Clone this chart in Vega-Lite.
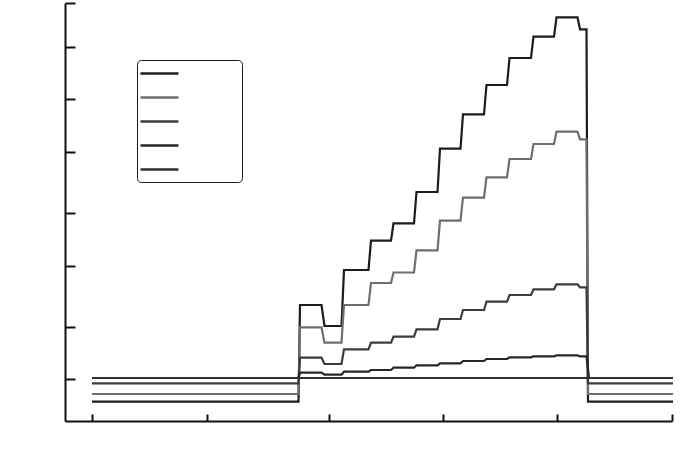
{
  "$schema": "https://vega.github.io/schema/vega-lite/v6.json",
  "width": 607,
  "height": 418,
  "autosize": {"type": "none"},
  "padding": {"left": 65, "top": 3, "right": 28, "bottom": 48},
  "background": "white",
  "config": {"view": {"stroke": null}},
  "data": {"values": [
    {"s":"A","x":27,"y":19.3},{"s":"A","x":233.5,"y":19.3},{"s":"A","x":235,"y":116},{"s":"A","x":256.5,"y":116},{"s":"A","x":259.5,"y":95},{"s":"A","x":276.5,"y":95},{"s":"A","x":279,"y":151},{"s":"A","x":303.5,"y":151},{"s":"A","x":306,"y":180.3},{"s":"A","x":326,"y":180.3},{"s":"A","x":328.5,"y":197.7},{"s":"A","x":349,"y":197.7},{"s":"A","x":351.5,"y":229},{"s":"A","x":372.5,"y":229},{"s":"A","x":375,"y":272.3},{"s":"A","x":395.5,"y":272.3},{"s":"A","x":398,"y":306.7},{"s":"A","x":419,"y":306.7},{"s":"A","x":421.5,"y":336},{"s":"A","x":442,"y":336},{"s":"A","x":444.5,"y":363},{"s":"A","x":466,"y":363},{"s":"A","x":468.5,"y":384.3},{"s":"A","x":489,"y":384.3},{"s":"A","x":491.5,"y":403.7},{"s":"A","x":512.5,"y":403.7},{"s":"A","x":515,"y":391.7},{"s":"A","x":521.5,"y":391.7},{"s":"A","x":523,"y":19.3},{"s":"A","x":608,"y":19.3},
    {"s":"B","x":27,"y":27},{"s":"B","x":233.5,"y":27},{"s":"B","x":235,"y":93.7},{"s":"B","x":256.5,"y":93.7},{"s":"B","x":259.5,"y":78.3},{"s":"B","x":276.5,"y":78.3},{"s":"B","x":279,"y":116},{"s":"B","x":303.5,"y":116},{"s":"B","x":306,"y":138},{"s":"B","x":326,"y":138},{"s":"B","x":328.5,"y":148.5},{"s":"B","x":349,"y":148.5},{"s":"B","x":351.5,"y":170.7},{"s":"B","x":372.5,"y":170.7},{"s":"B","x":375,"y":200.3},{"s":"B","x":395.5,"y":200.3},{"s":"B","x":398,"y":223.3},{"s":"B","x":419,"y":223.3},{"s":"B","x":421.5,"y":243.7},{"s":"B","x":442,"y":243.7},{"s":"B","x":444.5,"y":262},{"s":"B","x":466,"y":262},{"s":"B","x":468.5,"y":277},{"s":"B","x":489,"y":277},{"s":"B","x":491.5,"y":289.3},{"s":"B","x":512.5,"y":289.3},{"s":"B","x":515,"y":281.7},{"s":"B","x":521.5,"y":281.7},{"s":"B","x":523,"y":27},{"s":"B","x":608,"y":27},
    {"s":"C","x":27,"y":37.7},{"s":"C","x":233.5,"y":37.7},{"s":"C","x":235,"y":63.3},{"s":"C","x":256.5,"y":63.3},{"s":"C","x":259.5,"y":57},{"s":"C","x":276.5,"y":57},{"s":"C","x":279,"y":71.7},{"s":"C","x":303.5,"y":71.7},{"s":"C","x":306,"y":78.3},{"s":"C","x":326,"y":78.3},{"s":"C","x":328.5,"y":84.3},{"s":"C","x":349,"y":84.3},{"s":"C","x":351.5,"y":91.7},{"s":"C","x":372.5,"y":91.7},{"s":"C","x":375,"y":102},{"s":"C","x":395.5,"y":102},{"s":"C","x":398,"y":111},{"s":"C","x":419,"y":111},{"s":"C","x":421.5,"y":119.3},{"s":"C","x":442,"y":119.3},{"s":"C","x":444.5,"y":126},{"s":"C","x":466,"y":126},{"s":"C","x":468.5,"y":131.7},{"s":"C","x":489,"y":131.7},{"s":"C","x":491.5,"y":136.7},{"s":"C","x":512.5,"y":136.7},{"s":"C","x":515,"y":133.7},{"s":"C","x":521.5,"y":133.7},{"s":"C","x":523,"y":37.7},{"s":"C","x":608,"y":37.7},
    {"s":"D","x":27,"y":43},{"s":"D","x":233.5,"y":43},{"s":"D","x":235,"y":48.3},{"s":"D","x":256.5,"y":48.3},{"s":"D","x":259.5,"y":46.3},{"s":"D","x":276.5,"y":46.3},{"s":"D","x":279,"y":49.3},{"s":"D","x":303.5,"y":49.3},{"s":"D","x":306,"y":51},{"s":"D","x":326,"y":51},{"s":"D","x":328.5,"y":53.3},{"s":"D","x":349,"y":53.3},{"s":"D","x":351.5,"y":55.7},{"s":"D","x":372.5,"y":55.7},{"s":"D","x":375,"y":57.7},{"s":"D","x":395.5,"y":57.7},{"s":"D","x":398,"y":60},{"s":"D","x":419,"y":60},{"s":"D","x":421.5,"y":62},{"s":"D","x":442,"y":62},{"s":"D","x":444.5,"y":63.7},{"s":"D","x":466,"y":63.7},{"s":"D","x":468.5,"y":64.7},{"s":"D","x":489,"y":64.7},{"s":"D","x":491.5,"y":65.7},{"s":"D","x":512.5,"y":65.7},{"s":"D","x":515,"y":64.7},{"s":"D","x":521.5,"y":64.7},{"s":"D","x":524,"y":43},{"s":"D","x":608,"y":43},
    {"s":"E","x":27,"y":43},{"s":"E","x":608,"y":43}
  ]},
  "mark": {"type": "line", "strokeWidth": 2.2, "interpolate": "linear"},
  "encoding": {
    "x": {
      "field": "x", "type": "quantitative",
      "scale": {"domain": [0, 607], "nice": false, "zero": false},
      "axis": {"values": [27.3, 141.7, 264, 377.7, 491.7, 606.7], "labels": false, "title": null, "grid": false,
               "domainColor": "#111", "domainWidth": 2, "tickColor": "#111", "tickWidth": 2, "tickSize": -7}
    },
    "y": {
      "field": "y", "type": "quantitative",
      "scale": {"domain": [0, 418], "nice": false, "zero": false},
      "axis": {"values": [41.7, 94, 155, 207.7, 269.3, 322, 374.3, 418], "labels": false, "title": null, "grid": false,
               "domainColor": "#111", "domainWidth": 2, "tickColor": "#111", "tickWidth": 2, "tickSize": -10}
    },
    "color": {
      "field": "s", "type": "nominal",
      "scale": {"domain": ["A", "B", "C", "D", "E"], "range": ["#1c1c1c", "#6e6e6e", "#3c3c3c", "#262626", "#303030"]},
      "legend": {
        "orient": "none", "legendX": 72, "legendY": 57, "direction": "vertical", "title": null,
        "symbolType": "M-3.8,0H3.8M14,0", "symbolSize": 100, "symbolStrokeWidth": 2.4, "symbolOffset": 9,
        "labelExpr": "''", "labelFontSize": 10, "padding": 7, "rowPadding": 12,
        "strokeColor": "#1a1a1a", "cornerRadius": 4, "fillColor": "white"
      }
    }
  }
}
